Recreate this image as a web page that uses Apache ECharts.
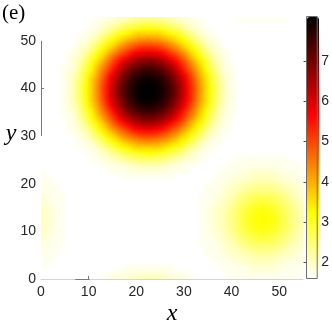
<!DOCTYPE html>
<html>
<head>
<meta charset="utf-8">
<script src="https://cdn.jsdelivr.net/npm/echarts@6/dist/echarts.min.js"></script>
<style>
html,body{margin:0;padding:0;background:#fff;}
#wrap{position:relative;width:332px;height:324px;overflow:hidden;}
#heat{position:absolute;left:41px;top:17px;width:262px;height:262px;}
#chart{position:absolute;left:0;top:0;width:332px;height:324px;}
</style>
</head>
<body>
<div id="wrap"><div id="heat"></div><div id="chart"></div></div>
<script>
// Tick labels
const xTickValues = [0, 10, 20, 30, 40, 50];
const yTickValues = [0, 10, 20, 30, 40, 50];
const colorbarTicks = [2, 3, 4, 5, 6, 7];
const colorRange = [1.6, 8.1];
const axisExtent = [0, 55];
// reversed "hot" colormap: white -> yellow -> red -> black
const hotReversed = ['#ffffff','#ffff80','#ffff00','#ffaa00','#ff5500','#ff0000','#aa0000','#550000','#000000'];

// Field values, one row per unit cell.
// First row is the top (y cell 54), last row is the bottom (y cell 0); 55 cells per row (x cell 0..54).
const fieldRows = [
[1.6,1.6,1.6,1.6,1.6,1.6,1.6,1.6,1.6,1.6,1.6,1.7,1.7,1.8,1.8,1.9,2.0,2.0,2.1,2.2,2.3,2.3,2.3,2.3,2.3,2.2,2.1,2.0,2.0,1.9,1.8,1.8,1.7,1.7,1.6,1.6,1.6,1.6,1.6,1.6,1.6,1.7,1.7,1.7,1.7,1.7,1.7,1.7,1.7,1.7,1.7,1.7,1.6,1.6,1.6],
[1.6,1.6,1.6,1.6,1.6,1.6,1.6,1.6,1.6,1.6,1.7,1.7,1.8,1.9,2.0,2.1,2.2,2.4,2.5,2.6,2.6,2.7,2.7,2.7,2.6,2.6,2.5,2.4,2.2,2.1,2.0,1.9,1.8,1.7,1.7,1.6,1.6,1.6,1.6,1.6,1.6,1.6,1.6,1.6,1.6,1.6,1.6,1.6,1.6,1.6,1.6,1.6,1.6,1.6,1.6],
[1.6,1.6,1.6,1.6,1.6,1.6,1.6,1.6,1.6,1.7,1.7,1.8,1.9,2.0,2.2,2.4,2.6,2.7,2.9,3.0,3.1,3.2,3.2,3.2,3.1,3.0,2.9,2.7,2.6,2.4,2.2,2.0,1.9,1.8,1.7,1.7,1.6,1.6,1.6,1.6,1.6,1.6,1.6,1.6,1.6,1.6,1.6,1.6,1.6,1.6,1.6,1.6,1.6,1.6,1.6],
[1.6,1.6,1.6,1.6,1.6,1.6,1.6,1.6,1.7,1.7,1.8,1.9,2.1,2.3,2.5,2.8,3.0,3.2,3.3,3.5,3.6,3.6,3.6,3.6,3.6,3.5,3.3,3.2,3.0,2.8,2.5,2.3,2.1,1.9,1.8,1.7,1.7,1.6,1.6,1.6,1.6,1.6,1.6,1.6,1.6,1.6,1.6,1.6,1.6,1.6,1.6,1.6,1.6,1.6,1.6],
[1.6,1.6,1.6,1.6,1.6,1.6,1.6,1.7,1.7,1.8,1.9,2.1,2.4,2.6,2.9,3.2,3.4,3.6,3.8,3.9,4.1,4.1,4.2,4.1,4.1,3.9,3.8,3.6,3.4,3.2,2.9,2.6,2.4,2.1,1.9,1.8,1.7,1.7,1.6,1.6,1.6,1.6,1.6,1.6,1.6,1.6,1.6,1.6,1.6,1.6,1.6,1.6,1.6,1.6,1.6],
[1.6,1.6,1.6,1.6,1.6,1.6,1.6,1.7,1.8,1.9,2.1,2.4,2.6,3.0,3.3,3.5,3.8,4.1,4.3,4.5,4.6,4.7,4.7,4.7,4.6,4.5,4.3,4.1,3.8,3.5,3.3,3.0,2.6,2.4,2.1,1.9,1.8,1.7,1.6,1.6,1.6,1.6,1.6,1.6,1.6,1.6,1.6,1.6,1.6,1.6,1.6,1.6,1.6,1.6,1.6],
[1.6,1.6,1.6,1.6,1.6,1.6,1.7,1.8,1.9,2.0,2.3,2.6,3.0,3.3,3.6,3.9,4.3,4.5,4.8,5.0,5.2,5.3,5.3,5.3,5.2,5.0,4.8,4.5,4.3,3.9,3.6,3.3,3.0,2.6,2.3,2.0,1.9,1.8,1.7,1.6,1.6,1.6,1.6,1.6,1.6,1.6,1.6,1.6,1.6,1.6,1.6,1.6,1.6,1.6,1.6],
[1.6,1.6,1.6,1.6,1.6,1.7,1.7,1.8,2.0,2.2,2.5,2.9,3.3,3.6,4.0,4.4,4.7,5.0,5.3,5.6,5.7,5.8,5.9,5.8,5.7,5.6,5.3,5.0,4.7,4.4,4.0,3.6,3.3,2.9,2.5,2.2,2.0,1.8,1.7,1.7,1.6,1.6,1.6,1.6,1.6,1.6,1.6,1.6,1.6,1.6,1.6,1.6,1.6,1.6,1.6],
[1.6,1.6,1.6,1.6,1.6,1.7,1.8,1.9,2.1,2.4,2.8,3.2,3.5,3.9,4.4,4.8,5.2,5.5,5.8,6.1,6.3,6.4,6.4,6.4,6.3,6.1,5.8,5.5,5.2,4.8,4.4,3.9,3.5,3.2,2.8,2.4,2.1,1.9,1.8,1.7,1.6,1.6,1.6,1.6,1.6,1.6,1.6,1.6,1.6,1.6,1.6,1.6,1.6,1.6,1.6],
[1.6,1.6,1.6,1.6,1.6,1.7,1.8,2.0,2.2,2.6,3.0,3.4,3.8,4.3,4.7,5.2,5.6,6.0,6.3,6.6,6.7,6.9,6.9,6.9,6.7,6.6,6.3,6.0,5.6,5.2,4.7,4.3,3.8,3.4,3.0,2.6,2.2,2.0,1.8,1.7,1.6,1.6,1.6,1.6,1.6,1.6,1.6,1.6,1.6,1.6,1.6,1.6,1.6,1.6,1.6],
[1.6,1.6,1.6,1.6,1.7,1.7,1.8,2.0,2.4,2.7,3.2,3.6,4.1,4.5,5.0,5.5,6.0,6.4,6.7,7.0,7.1,7.3,7.3,7.3,7.1,7.0,6.7,6.4,6.0,5.5,5.0,4.5,4.1,3.6,3.2,2.7,2.4,2.0,1.8,1.7,1.7,1.6,1.6,1.6,1.6,1.6,1.6,1.6,1.6,1.6,1.6,1.6,1.6,1.6,1.6],
[1.6,1.6,1.6,1.6,1.7,1.8,1.9,2.1,2.5,2.9,3.3,3.8,4.3,4.8,5.3,5.8,6.3,6.7,7.0,7.3,7.5,7.6,7.6,7.6,7.5,7.3,7.0,6.7,6.3,5.8,5.3,4.8,4.3,3.8,3.3,2.9,2.5,2.1,1.9,1.8,1.7,1.6,1.6,1.6,1.6,1.6,1.6,1.6,1.6,1.6,1.6,1.6,1.6,1.6,1.6],
[1.6,1.6,1.6,1.6,1.7,1.8,1.9,2.2,2.6,3.0,3.5,3.9,4.5,5.0,5.6,6.1,6.6,7.0,7.3,7.6,7.7,7.8,7.9,7.8,7.7,7.6,7.3,7.0,6.6,6.1,5.6,5.0,4.5,3.9,3.5,3.0,2.6,2.2,1.9,1.8,1.7,1.6,1.6,1.6,1.6,1.6,1.6,1.6,1.6,1.6,1.6,1.6,1.6,1.6,1.6],
[1.6,1.6,1.6,1.6,1.7,1.8,2.0,2.3,2.6,3.1,3.6,4.1,4.6,5.2,5.7,6.3,6.7,7.1,7.5,7.7,7.9,8.0,8.0,8.0,7.9,7.7,7.5,7.1,6.7,6.3,5.7,5.2,4.6,4.1,3.6,3.1,2.6,2.3,2.0,1.8,1.7,1.6,1.6,1.6,1.6,1.6,1.6,1.6,1.6,1.6,1.6,1.6,1.6,1.6,1.6],
[1.6,1.6,1.6,1.6,1.7,1.8,2.0,2.3,2.7,3.2,3.6,4.1,4.7,5.3,5.8,6.4,6.9,7.3,7.6,7.8,8.0,8.1,8.1,8.1,8.0,7.8,7.6,7.3,6.9,6.4,5.8,5.3,4.7,4.1,3.6,3.2,2.7,2.3,2.0,1.8,1.7,1.6,1.6,1.6,1.6,1.6,1.6,1.6,1.6,1.6,1.6,1.6,1.6,1.6,1.6],
[1.6,1.6,1.6,1.6,1.7,1.8,2.0,2.3,2.7,3.2,3.6,4.2,4.7,5.3,5.9,6.4,6.9,7.3,7.6,7.9,8.0,8.1,8.1,8.1,8.0,7.9,7.6,7.3,6.9,6.4,5.9,5.3,4.7,4.2,3.6,3.2,2.7,2.3,2.0,1.8,1.7,1.6,1.6,1.6,1.6,1.6,1.6,1.6,1.6,1.6,1.6,1.6,1.6,1.6,1.6],
[1.6,1.6,1.6,1.6,1.7,1.8,2.0,2.3,2.7,3.2,3.6,4.1,4.7,5.3,5.8,6.4,6.9,7.3,7.6,7.8,8.0,8.1,8.1,8.1,8.0,7.8,7.6,7.3,6.9,6.4,5.8,5.3,4.7,4.1,3.6,3.2,2.7,2.3,2.0,1.8,1.7,1.6,1.6,1.6,1.6,1.6,1.6,1.6,1.6,1.6,1.6,1.6,1.6,1.6,1.6],
[1.6,1.6,1.6,1.6,1.7,1.8,2.0,2.3,2.6,3.1,3.6,4.1,4.6,5.2,5.7,6.3,6.7,7.1,7.5,7.7,7.9,8.0,8.0,8.0,7.9,7.7,7.5,7.1,6.7,6.3,5.7,5.2,4.6,4.1,3.6,3.1,2.6,2.3,2.0,1.8,1.7,1.6,1.6,1.6,1.6,1.6,1.6,1.6,1.6,1.6,1.6,1.6,1.6,1.6,1.6],
[1.6,1.6,1.6,1.6,1.7,1.8,1.9,2.2,2.6,3.0,3.5,3.9,4.5,5.0,5.6,6.1,6.6,7.0,7.3,7.6,7.7,7.8,7.9,7.8,7.7,7.6,7.3,7.0,6.6,6.1,5.6,5.0,4.5,3.9,3.5,3.0,2.6,2.2,1.9,1.8,1.7,1.6,1.6,1.6,1.6,1.6,1.6,1.6,1.6,1.6,1.6,1.6,1.6,1.6,1.6],
[1.6,1.6,1.6,1.6,1.7,1.8,1.9,2.1,2.5,2.9,3.3,3.8,4.3,4.8,5.3,5.8,6.3,6.7,7.0,7.3,7.5,7.6,7.6,7.6,7.5,7.3,7.0,6.7,6.3,5.8,5.3,4.8,4.3,3.8,3.3,2.9,2.5,2.1,1.9,1.8,1.7,1.6,1.6,1.6,1.6,1.6,1.6,1.6,1.6,1.6,1.6,1.6,1.6,1.6,1.6],
[1.6,1.6,1.6,1.6,1.7,1.7,1.8,2.0,2.4,2.7,3.2,3.6,4.1,4.5,5.0,5.5,6.0,6.4,6.7,7.0,7.1,7.3,7.3,7.3,7.1,7.0,6.7,6.4,6.0,5.5,5.0,4.5,4.1,3.6,3.2,2.7,2.4,2.0,1.8,1.7,1.7,1.6,1.6,1.6,1.6,1.6,1.6,1.6,1.6,1.6,1.6,1.6,1.6,1.6,1.6],
[1.6,1.6,1.6,1.6,1.6,1.7,1.8,2.0,2.2,2.6,3.0,3.4,3.8,4.3,4.7,5.2,5.6,6.0,6.3,6.6,6.7,6.9,6.9,6.9,6.7,6.6,6.3,6.0,5.6,5.2,4.7,4.3,3.8,3.4,3.0,2.6,2.2,2.0,1.8,1.7,1.6,1.6,1.6,1.6,1.6,1.6,1.6,1.6,1.6,1.6,1.6,1.6,1.6,1.6,1.6],
[1.6,1.6,1.6,1.6,1.6,1.7,1.8,1.9,2.1,2.4,2.8,3.2,3.5,3.9,4.4,4.8,5.2,5.5,5.8,6.1,6.3,6.4,6.4,6.4,6.3,6.1,5.8,5.5,5.2,4.8,4.4,3.9,3.5,3.2,2.8,2.4,2.1,1.9,1.8,1.7,1.6,1.6,1.6,1.6,1.6,1.6,1.6,1.6,1.6,1.6,1.6,1.6,1.6,1.6,1.6],
[1.6,1.6,1.6,1.6,1.6,1.7,1.7,1.8,2.0,2.2,2.5,2.9,3.3,3.6,4.0,4.4,4.7,5.0,5.3,5.6,5.7,5.8,5.9,5.8,5.7,5.6,5.3,5.0,4.7,4.4,4.0,3.6,3.3,2.9,2.5,2.2,2.0,1.8,1.7,1.7,1.6,1.6,1.6,1.6,1.6,1.6,1.6,1.6,1.6,1.6,1.6,1.6,1.6,1.6,1.6],
[1.6,1.6,1.6,1.6,1.6,1.6,1.7,1.8,1.9,2.0,2.3,2.6,3.0,3.3,3.6,3.9,4.3,4.5,4.8,5.0,5.2,5.3,5.3,5.3,5.2,5.0,4.8,4.5,4.3,3.9,3.6,3.3,3.0,2.6,2.3,2.0,1.9,1.8,1.7,1.6,1.6,1.6,1.6,1.6,1.6,1.6,1.6,1.6,1.6,1.6,1.6,1.6,1.6,1.6,1.6],
[1.6,1.6,1.6,1.6,1.6,1.6,1.6,1.7,1.8,1.9,2.1,2.4,2.6,3.0,3.3,3.5,3.8,4.1,4.3,4.5,4.6,4.7,4.7,4.7,4.6,4.5,4.3,4.1,3.8,3.5,3.3,3.0,2.6,2.4,2.1,1.9,1.8,1.7,1.6,1.6,1.6,1.6,1.6,1.6,1.6,1.6,1.6,1.6,1.6,1.6,1.6,1.6,1.6,1.6,1.6],
[1.6,1.6,1.6,1.6,1.6,1.6,1.6,1.7,1.7,1.8,1.9,2.1,2.4,2.6,2.9,3.2,3.4,3.6,3.8,3.9,4.1,4.1,4.2,4.1,4.1,3.9,3.8,3.6,3.4,3.2,2.9,2.6,2.4,2.1,1.9,1.8,1.7,1.7,1.6,1.6,1.6,1.6,1.6,1.6,1.6,1.6,1.6,1.6,1.6,1.6,1.6,1.6,1.6,1.6,1.6],
[1.6,1.6,1.6,1.6,1.6,1.6,1.6,1.6,1.7,1.7,1.8,1.9,2.1,2.3,2.5,2.8,3.0,3.2,3.3,3.5,3.6,3.6,3.6,3.6,3.6,3.5,3.3,3.2,3.0,2.8,2.5,2.3,2.1,1.9,1.8,1.7,1.7,1.6,1.6,1.6,1.6,1.6,1.6,1.6,1.6,1.6,1.6,1.6,1.6,1.6,1.6,1.6,1.6,1.6,1.6],
[1.6,1.6,1.6,1.6,1.6,1.6,1.6,1.6,1.6,1.7,1.7,1.8,1.9,2.0,2.2,2.4,2.6,2.7,2.9,3.0,3.1,3.2,3.2,3.2,3.1,3.0,2.9,2.7,2.6,2.4,2.2,2.0,1.9,1.8,1.7,1.7,1.6,1.6,1.6,1.6,1.6,1.6,1.6,1.6,1.6,1.6,1.6,1.6,1.6,1.6,1.6,1.6,1.6,1.6,1.6],
[1.6,1.6,1.6,1.6,1.6,1.6,1.6,1.6,1.6,1.6,1.7,1.7,1.8,1.9,2.0,2.1,2.2,2.4,2.5,2.6,2.6,2.7,2.7,2.7,2.6,2.6,2.5,2.4,2.2,2.1,2.0,1.9,1.8,1.7,1.7,1.6,1.6,1.6,1.6,1.6,1.6,1.7,1.7,1.7,1.7,1.7,1.7,1.7,1.7,1.7,1.7,1.7,1.6,1.6,1.6],
[1.6,1.6,1.6,1.6,1.6,1.6,1.6,1.6,1.6,1.6,1.6,1.7,1.7,1.8,1.8,1.9,2.0,2.0,2.1,2.2,2.3,2.3,2.3,2.3,2.3,2.2,2.1,2.0,2.0,1.9,1.8,1.8,1.7,1.7,1.6,1.6,1.6,1.6,1.6,1.7,1.7,1.7,1.7,1.7,1.7,1.7,1.7,1.7,1.7,1.7,1.7,1.7,1.7,1.7,1.6],
[1.6,1.6,1.6,1.6,1.6,1.6,1.6,1.6,1.6,1.6,1.6,1.6,1.6,1.7,1.7,1.8,1.8,1.8,1.9,1.9,2.0,2.0,2.0,2.0,2.0,1.9,1.9,1.8,1.8,1.8,1.7,1.7,1.6,1.6,1.6,1.6,1.6,1.6,1.7,1.7,1.7,1.7,1.7,1.8,1.8,1.8,1.8,1.8,1.8,1.8,1.7,1.7,1.7,1.7,1.7],
[1.7,1.6,1.6,1.6,1.6,1.6,1.6,1.6,1.6,1.6,1.6,1.6,1.6,1.6,1.7,1.7,1.7,1.7,1.8,1.8,1.8,1.8,1.8,1.8,1.8,1.8,1.8,1.7,1.7,1.7,1.7,1.6,1.6,1.6,1.6,1.6,1.6,1.7,1.7,1.7,1.7,1.8,1.8,1.8,1.9,1.9,1.9,1.9,1.9,1.8,1.8,1.8,1.7,1.7,1.7],
[1.7,1.7,1.6,1.6,1.6,1.6,1.6,1.6,1.6,1.6,1.6,1.6,1.6,1.6,1.6,1.6,1.6,1.7,1.7,1.7,1.7,1.7,1.7,1.7,1.7,1.7,1.7,1.7,1.6,1.6,1.6,1.6,1.6,1.6,1.6,1.6,1.7,1.7,1.7,1.8,1.8,1.8,1.9,1.9,2.0,2.0,2.0,2.0,2.0,1.9,1.9,1.8,1.8,1.8,1.7],
[1.7,1.7,1.7,1.6,1.6,1.6,1.6,1.6,1.6,1.6,1.6,1.6,1.6,1.6,1.6,1.6,1.6,1.6,1.6,1.6,1.6,1.6,1.6,1.6,1.6,1.6,1.6,1.6,1.6,1.6,1.6,1.6,1.6,1.6,1.6,1.7,1.7,1.7,1.8,1.8,1.9,1.9,2.0,2.0,2.1,2.1,2.1,2.1,2.1,2.0,2.0,1.9,1.9,1.8,1.8],
[1.8,1.7,1.7,1.7,1.6,1.6,1.6,1.6,1.6,1.6,1.6,1.6,1.6,1.6,1.6,1.6,1.6,1.6,1.6,1.6,1.6,1.6,1.6,1.6,1.6,1.6,1.6,1.6,1.6,1.6,1.6,1.6,1.6,1.6,1.7,1.7,1.7,1.8,1.8,1.9,2.0,2.0,2.1,2.2,2.2,2.3,2.3,2.3,2.2,2.2,2.1,2.0,2.0,1.9,1.8],
[1.8,1.7,1.7,1.7,1.6,1.6,1.6,1.6,1.6,1.6,1.6,1.6,1.6,1.6,1.6,1.6,1.6,1.6,1.6,1.6,1.6,1.6,1.6,1.6,1.6,1.6,1.6,1.6,1.6,1.6,1.6,1.6,1.6,1.6,1.7,1.7,1.7,1.8,1.9,2.0,2.0,2.1,2.2,2.3,2.4,2.4,2.4,2.4,2.4,2.3,2.2,2.1,2.0,2.0,1.9],
[1.8,1.8,1.7,1.7,1.7,1.6,1.6,1.6,1.6,1.6,1.6,1.6,1.6,1.6,1.6,1.6,1.6,1.6,1.6,1.6,1.6,1.6,1.6,1.6,1.6,1.6,1.6,1.6,1.6,1.6,1.6,1.6,1.6,1.7,1.7,1.7,1.8,1.8,1.9,2.0,2.1,2.3,2.4,2.5,2.6,2.6,2.6,2.6,2.6,2.5,2.4,2.3,2.1,2.0,1.9],
[1.9,1.8,1.7,1.7,1.7,1.6,1.6,1.6,1.6,1.6,1.6,1.6,1.6,1.6,1.6,1.6,1.6,1.6,1.6,1.6,1.6,1.6,1.6,1.6,1.6,1.6,1.6,1.6,1.6,1.6,1.6,1.6,1.6,1.7,1.7,1.7,1.8,1.9,2.0,2.1,2.2,2.4,2.5,2.6,2.7,2.8,2.8,2.8,2.7,2.6,2.5,2.4,2.2,2.1,2.0],
[1.9,1.8,1.8,1.7,1.7,1.6,1.6,1.6,1.6,1.6,1.6,1.6,1.6,1.6,1.6,1.6,1.6,1.6,1.6,1.6,1.6,1.6,1.6,1.6,1.6,1.6,1.6,1.6,1.6,1.6,1.6,1.6,1.6,1.7,1.7,1.8,1.8,1.9,2.0,2.2,2.3,2.5,2.6,2.8,2.9,2.9,3.0,2.9,2.9,2.8,2.6,2.5,2.3,2.2,2.0],
[2.0,1.9,1.8,1.7,1.7,1.6,1.6,1.6,1.6,1.6,1.6,1.6,1.6,1.6,1.6,1.6,1.6,1.6,1.6,1.6,1.6,1.6,1.6,1.6,1.6,1.6,1.6,1.6,1.6,1.6,1.6,1.6,1.6,1.7,1.7,1.8,1.9,2.0,2.1,2.2,2.4,2.6,2.7,2.9,3.0,3.1,3.1,3.1,3.0,2.9,2.7,2.6,2.4,2.2,2.1],
[2.0,1.9,1.8,1.7,1.7,1.6,1.6,1.6,1.6,1.6,1.6,1.6,1.6,1.6,1.6,1.6,1.6,1.6,1.6,1.6,1.6,1.6,1.6,1.6,1.6,1.6,1.6,1.6,1.6,1.6,1.6,1.6,1.6,1.7,1.7,1.8,1.9,2.0,2.1,2.3,2.4,2.6,2.8,2.9,3.1,3.1,3.2,3.1,3.1,2.9,2.8,2.6,2.4,2.3,2.1],
[2.0,1.9,1.8,1.7,1.7,1.6,1.6,1.6,1.6,1.6,1.6,1.6,1.6,1.6,1.6,1.6,1.6,1.6,1.6,1.6,1.6,1.6,1.6,1.6,1.6,1.6,1.6,1.6,1.6,1.6,1.6,1.6,1.6,1.7,1.7,1.8,1.9,2.0,2.1,2.3,2.4,2.6,2.8,3.0,3.1,3.2,3.2,3.2,3.1,3.0,2.8,2.6,2.4,2.3,2.1],
[2.0,1.9,1.8,1.7,1.7,1.6,1.6,1.6,1.6,1.6,1.6,1.6,1.6,1.6,1.6,1.6,1.6,1.6,1.6,1.6,1.6,1.6,1.6,1.6,1.6,1.6,1.6,1.6,1.6,1.6,1.6,1.6,1.6,1.7,1.7,1.8,1.9,2.0,2.1,2.3,2.4,2.6,2.8,2.9,3.1,3.1,3.2,3.1,3.1,2.9,2.8,2.6,2.4,2.3,2.1],
[2.0,1.9,1.8,1.7,1.7,1.6,1.6,1.6,1.6,1.6,1.6,1.6,1.6,1.6,1.6,1.6,1.6,1.6,1.6,1.6,1.6,1.6,1.6,1.6,1.6,1.6,1.6,1.6,1.6,1.6,1.6,1.6,1.6,1.7,1.7,1.8,1.9,2.0,2.1,2.2,2.4,2.6,2.7,2.9,3.0,3.1,3.1,3.1,3.0,2.9,2.7,2.6,2.4,2.2,2.1],
[1.9,1.8,1.8,1.7,1.7,1.6,1.6,1.6,1.6,1.6,1.6,1.6,1.6,1.6,1.6,1.6,1.6,1.6,1.6,1.6,1.6,1.6,1.6,1.6,1.6,1.6,1.6,1.6,1.6,1.6,1.6,1.6,1.6,1.7,1.7,1.8,1.8,1.9,2.0,2.2,2.3,2.5,2.6,2.8,2.9,2.9,3.0,2.9,2.9,2.8,2.6,2.5,2.3,2.2,2.0],
[1.9,1.8,1.7,1.7,1.7,1.6,1.6,1.6,1.6,1.6,1.6,1.6,1.6,1.6,1.6,1.6,1.6,1.6,1.6,1.6,1.6,1.6,1.6,1.6,1.6,1.6,1.6,1.6,1.6,1.6,1.6,1.6,1.6,1.7,1.7,1.7,1.8,1.9,2.0,2.1,2.2,2.4,2.5,2.6,2.7,2.8,2.8,2.8,2.7,2.6,2.5,2.4,2.2,2.1,2.0],
[1.8,1.8,1.7,1.7,1.7,1.6,1.6,1.6,1.6,1.6,1.6,1.6,1.6,1.6,1.6,1.6,1.6,1.6,1.6,1.6,1.6,1.6,1.6,1.6,1.6,1.6,1.6,1.6,1.6,1.6,1.6,1.6,1.6,1.7,1.7,1.7,1.8,1.8,1.9,2.0,2.1,2.3,2.4,2.5,2.6,2.6,2.6,2.6,2.6,2.5,2.4,2.3,2.1,2.0,1.9],
[1.8,1.7,1.7,1.7,1.6,1.6,1.6,1.6,1.6,1.6,1.6,1.6,1.6,1.6,1.6,1.6,1.6,1.6,1.6,1.6,1.6,1.6,1.6,1.6,1.6,1.6,1.6,1.6,1.6,1.6,1.6,1.6,1.6,1.6,1.7,1.7,1.7,1.8,1.9,2.0,2.0,2.1,2.2,2.3,2.4,2.4,2.4,2.4,2.4,2.3,2.2,2.1,2.0,2.0,1.9],
[1.8,1.7,1.7,1.7,1.6,1.6,1.6,1.6,1.6,1.6,1.6,1.6,1.6,1.6,1.6,1.6,1.6,1.6,1.6,1.6,1.6,1.6,1.6,1.6,1.6,1.6,1.6,1.6,1.6,1.6,1.6,1.6,1.6,1.6,1.7,1.7,1.7,1.8,1.8,1.9,2.0,2.0,2.1,2.2,2.2,2.3,2.3,2.3,2.2,2.2,2.1,2.0,2.0,1.9,1.8],
[1.7,1.7,1.7,1.6,1.6,1.6,1.6,1.6,1.6,1.6,1.6,1.6,1.6,1.6,1.6,1.6,1.6,1.6,1.6,1.6,1.6,1.6,1.6,1.6,1.6,1.6,1.6,1.6,1.6,1.6,1.6,1.6,1.6,1.6,1.6,1.7,1.7,1.7,1.8,1.8,1.9,1.9,2.0,2.0,2.1,2.1,2.1,2.1,2.1,2.0,2.0,1.9,1.9,1.8,1.8],
[1.7,1.7,1.6,1.6,1.6,1.6,1.6,1.6,1.6,1.6,1.6,1.6,1.6,1.6,1.6,1.6,1.6,1.6,1.6,1.6,1.6,1.6,1.6,1.6,1.6,1.6,1.6,1.6,1.6,1.6,1.6,1.6,1.6,1.6,1.6,1.6,1.7,1.7,1.7,1.8,1.8,1.8,1.9,1.9,2.0,2.0,2.0,2.0,2.0,1.9,1.9,1.8,1.8,1.8,1.7],
[1.7,1.6,1.6,1.6,1.6,1.6,1.6,1.6,1.6,1.6,1.6,1.6,1.6,1.6,1.6,1.6,1.6,1.7,1.7,1.7,1.7,1.7,1.7,1.7,1.7,1.7,1.7,1.7,1.6,1.6,1.6,1.6,1.6,1.6,1.6,1.6,1.6,1.7,1.7,1.7,1.7,1.8,1.8,1.8,1.9,1.9,1.9,1.9,1.9,1.8,1.8,1.8,1.7,1.7,1.7],
[1.6,1.6,1.6,1.6,1.6,1.6,1.6,1.6,1.6,1.6,1.6,1.6,1.6,1.6,1.7,1.7,1.7,1.7,1.8,1.8,1.8,1.8,1.8,1.8,1.8,1.8,1.8,1.7,1.7,1.7,1.7,1.6,1.6,1.6,1.6,1.6,1.6,1.6,1.7,1.7,1.7,1.7,1.7,1.8,1.8,1.8,1.8,1.8,1.8,1.8,1.7,1.7,1.7,1.7,1.7],
[1.6,1.6,1.6,1.6,1.6,1.6,1.6,1.6,1.6,1.6,1.6,1.6,1.6,1.7,1.7,1.8,1.8,1.8,1.9,1.9,2.0,2.0,2.0,2.0,2.0,1.9,1.9,1.8,1.8,1.8,1.7,1.7,1.6,1.6,1.6,1.6,1.6,1.6,1.6,1.7,1.7,1.7,1.7,1.7,1.7,1.7,1.7,1.7,1.7,1.7,1.7,1.7,1.7,1.7,1.6]
];

const nCells = 55;
const cellNames = Array.from({length: nCells}, (_, i) => String(i));
const heatData = [];
const badRows = [];
fieldRows.forEach((row, k) => {
  if (row.length !== nCells) badRows.push((fieldRows.length - 1 - k) + ':' + row.length);
  const yCell = fieldRows.length - 1 - k;
  row.forEach((v, i) => heatData.push([i, yCell, v]));
});
if (badRows.length || fieldRows.length !== nCells) console.error('row length problems', fieldRows.length, badRows.join(' '));

// Field layer: one canvas pixel per cell, shown at plot size (smooth display like interpolated shading)
const heatEl = document.getElementById('heat');
const heatChart = echarts.init(heatEl, null, {renderer: 'canvas', devicePixelRatio: 55.0005 / 262});
heatChart.setOption({
  animation: false,
  grid: {left: 0, top: 0, right: 0, bottom: 0, show: false},
  xAxis: {type: 'category', data: cellNames, show: false},
  yAxis: {type: 'category', data: cellNames, show: false},
  visualMap: {show: false, type: 'continuous', dimension: 2, min: colorRange[0], max: colorRange[1], inRange: {color: hotReversed}},
  series: [{type: 'heatmap', data: heatData, progressive: 0, silent: true, emphasis: {disabled: true}}]
});

const labelFont = {fontFamily: '"Liberation Sans", Arial, sans-serif', fontSize: 14, color: '#262626'};
const plot = {left: 41, top: 17, width: 262, height: 262};

const chart = echarts.init(document.getElementById('chart'), null, {renderer: 'canvas'});
chart.setOption({
  animation: false,
  backgroundColor: 'transparent',
  grid: [
    Object.assign({show: false}, plot),
    {left: 306.5, top: 16.5, width: 13, height: 262, show: true, borderColor: '#6e6e6e', borderWidth: 1, backgroundColor: 'transparent', z: 10}
  ],
  xAxis: [
    {gridIndex: 0, type: 'value', min: axisExtent[0], max: axisExtent[1],
      axisLine: {show: true, lineStyle: {color: '#d4d4d4', width: 1}},
      axisTick: {show: true, inside: true, length: 3, customValues: [10], lineStyle: {color: '#777'}},
      axisLabel: Object.assign({customValues: xTickValues, margin: 6}, labelFont),
      splitLine: {show: false}},
    {gridIndex: 1, type: 'value', min: 0, max: 1, show: false}
  ],
  yAxis: [
    {gridIndex: 0, type: 'value', min: axisExtent[0], max: axisExtent[1],
      axisLine: {show: false},
      axisTick: {show: true, inside: true, length: 3, customValues: [40], lineStyle: {color: '#777'}},
      axisLabel: Object.assign({customValues: yTickValues, margin: 5}, labelFont),
      splitLine: {show: false}},
    {gridIndex: 1, type: 'value', position: 'right', min: colorRange[0], max: colorRange[1], z: 10,
      axisLine: {show: false},
      axisTick: {show: true, inside: true, length: 3, customValues: colorbarTicks, lineStyle: {color: '#555'}},
      axisLabel: Object.assign({customValues: colorbarTicks, margin: 4}, labelFont),
      splitLine: {show: false}}
  ],
  visualMap: {
    type: 'continuous', seriesIndex: 0, dimension: 1,
    min: colorRange[0], max: colorRange[1],
    inRange: {color: hotReversed},
    orient: 'vertical', left: 307, top: 17, itemWidth: 12, itemHeight: 261,
    padding: 0, calculable: false, hoverLink: false, realtime: false
  },
  series: [
    {type: 'line', xAxisIndex: 0, yAxisIndex: 0, data: [], silent: true, z: 5,
      markLine: {silent: true, symbol: 'none', animation: false, label: {show: false},
        lineStyle: {type: 'solid', color: '#7a7a7a', width: 1},
        data: [
          [{coord: [0, 30]}, {coord: [0, 50]}],
          [{coord: [7.2, 0]}, {coord: [10.2, 0]}]
        ]}}
  ],
  graphic: [
    {type: 'text', left: 2, top: 3, style: {text: '(e)', font: '21px "Liberation Serif", "DejaVu Serif", serif', fill: '#000'}},
    {type: 'text', x: 172, y: 314, style: {text: 'x', font: 'italic 24px "Liberation Serif", "DejaVu Serif", serif', fill: '#000', align: 'center', verticalAlign: 'middle'}},
    {type: 'text', x: 11, y: 134, style: {text: 'y', font: 'italic 24px "Liberation Serif", "DejaVu Serif", serif', fill: '#000', align: 'center', verticalAlign: 'middle'}}
  ]
});
</script>
</body>
</html>
